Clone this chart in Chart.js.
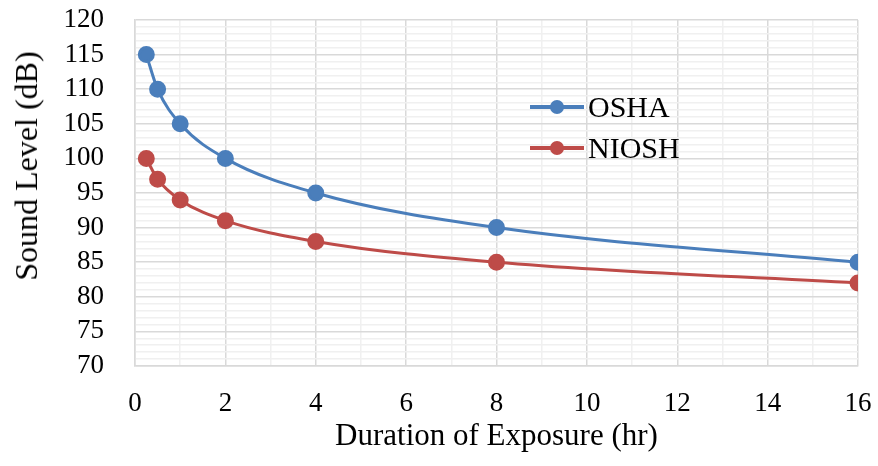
<!DOCTYPE html>
<html lang="en">
<head>
  <meta charset="UTF-8">
  <title>Sound Level vs Duration of Exposure</title>
  <script src="https://cdn.jsdelivr.net/npm/chart.js"></script>
  <style>
    html, body { margin: 0; padding: 0; background: #ffffff; }
    #wrap { position: relative; width: 878px; height: 466px; }
    #legend {
      position: absolute; left: 530px; top: 86px;
      font-family: "Liberation Serif", "Times New Roman", serif;
      font-size: 30px; color: #000;
    }
    .item { display: flex; align-items: center; height: 41px; }
    .sym { position: relative; width: 54px; height: 14px; margin-right: 4px; }
    .sym .ln { position: absolute; left: 0; right: 0; top: 5px; height: 4px; }
    .sym .dot { position: absolute; left: 20px; top: 0; width: 14px; height: 14px; border-radius: 50%; }
    #ytitle {
      position: absolute; left: 26px; top: 166px;
      transform: translate(-50%, -50%) rotate(-90deg);
      white-space: nowrap;
      font-family: "Liberation Serif", "Times New Roman", serif;
      font-size: 32px; line-height: 1; color: #000;
    }
  </style>
</head>
<body>
  <div id="wrap">
    <canvas id="c" width="878" height="466"></canvas>
    <div id="legend"></div>
    <div id="ytitle">Sound Level (dB)</div>
  </div>
  <script>
    // data
    const hours = [0.25, 0.5, 1, 2, 4, 8, 16];
    const osha = [115, 110, 105, 100, 95, 90, 85];
    const niosh = [100, 97, 94, 91, 88, 85, 82];
    const seriesNames = ['OSHA', 'NIOSH'];
    const colors = ['#4a7ebb', '#be4b48'];

    const font = "'Liberation Serif', 'Times New Roman', serif";

    function pts(vals) {
      return hours.map((h, i) => ({ x: h, y: vals[i] }));
    }

    const ds = [osha, niosh].map((vals, i) => ({
      label: seriesNames[i],
      data: pts(vals),
      borderColor: colors[i],
      backgroundColor: colors[i],
      borderWidth: 3,
      pointRadius: 7,
      pointHoverRadius: 7,
      cubicInterpolationMode: 'monotone',
      fill: false
    }));

    new Chart(document.getElementById('c'), {
      type: 'line',
      data: { datasets: ds },
      options: {
        responsive: false,
        animation: false,
        layout: { padding: { top: 20, right: 20, left: 0, bottom: 0 } },
        plugins: { legend: { display: false }, tooltip: { enabled: false } },
        scales: {
          x: {
            type: 'linear', min: 0, max: 16,
            afterFit: s => { s.height = 100; s.paddingLeft = 0; s.paddingRight = 0; },
            ticks: {
              stepSize: 1, autoSkip: false, maxRotation: 0,
              padding: 22,
              color: '#000', font: { family: font, size: 27 },
              callback: v => (v % 2 === 0 ? v : '')
            },
            grid: {
              color: c => (c.tick && c.tick.value % 2 === 0 ? '#d9d9d9' : '#f0f0f0'),
              lineWidth: 1.5,
              drawTicks: false
            },
            border: { color: '#d9d9d9', width: 1.5 },
            title: {
              display: true, text: 'Duration of Exposure (hr)',
              color: '#000', font: { family: font, size: 31 },
              padding: { top: 0, bottom: 11 }
            }
          },
          y: {
            min: 70, max: 120,
            afterFit: s => { s.width = 135; s.paddingTop = 0; s.paddingBottom = 0; },
            ticks: {
              stepSize: 1, autoSkip: false,
              padding: 31,
              color: '#000', font: { family: font, size: 27 },
              callback: v => (v % 5 === 0 ? v : '')
            },
            grid: {
              color: c => (c.tick && c.tick.value % 5 === 0 ? '#d9d9d9' : '#f0f0f0'),
              lineWidth: 1.5,
              drawTicks: false
            },
            border: { color: '#d9d9d9', width: 1.5 }
          }
        }
      }
    });

    // legend inside the plot
    const lg = document.getElementById('legend');
    seriesNames.forEach((n, i) => {
      const it = document.createElement('div');
      it.className = 'item';
      it.innerHTML = '<div class="sym"><div class="ln" style="background:' + colors[i] +
        '"></div><div class="dot" style="background:' + colors[i] + '"></div></div><span>' + n + '</span>';
      lg.appendChild(it);
    });
  </script>
</body>
</html>
